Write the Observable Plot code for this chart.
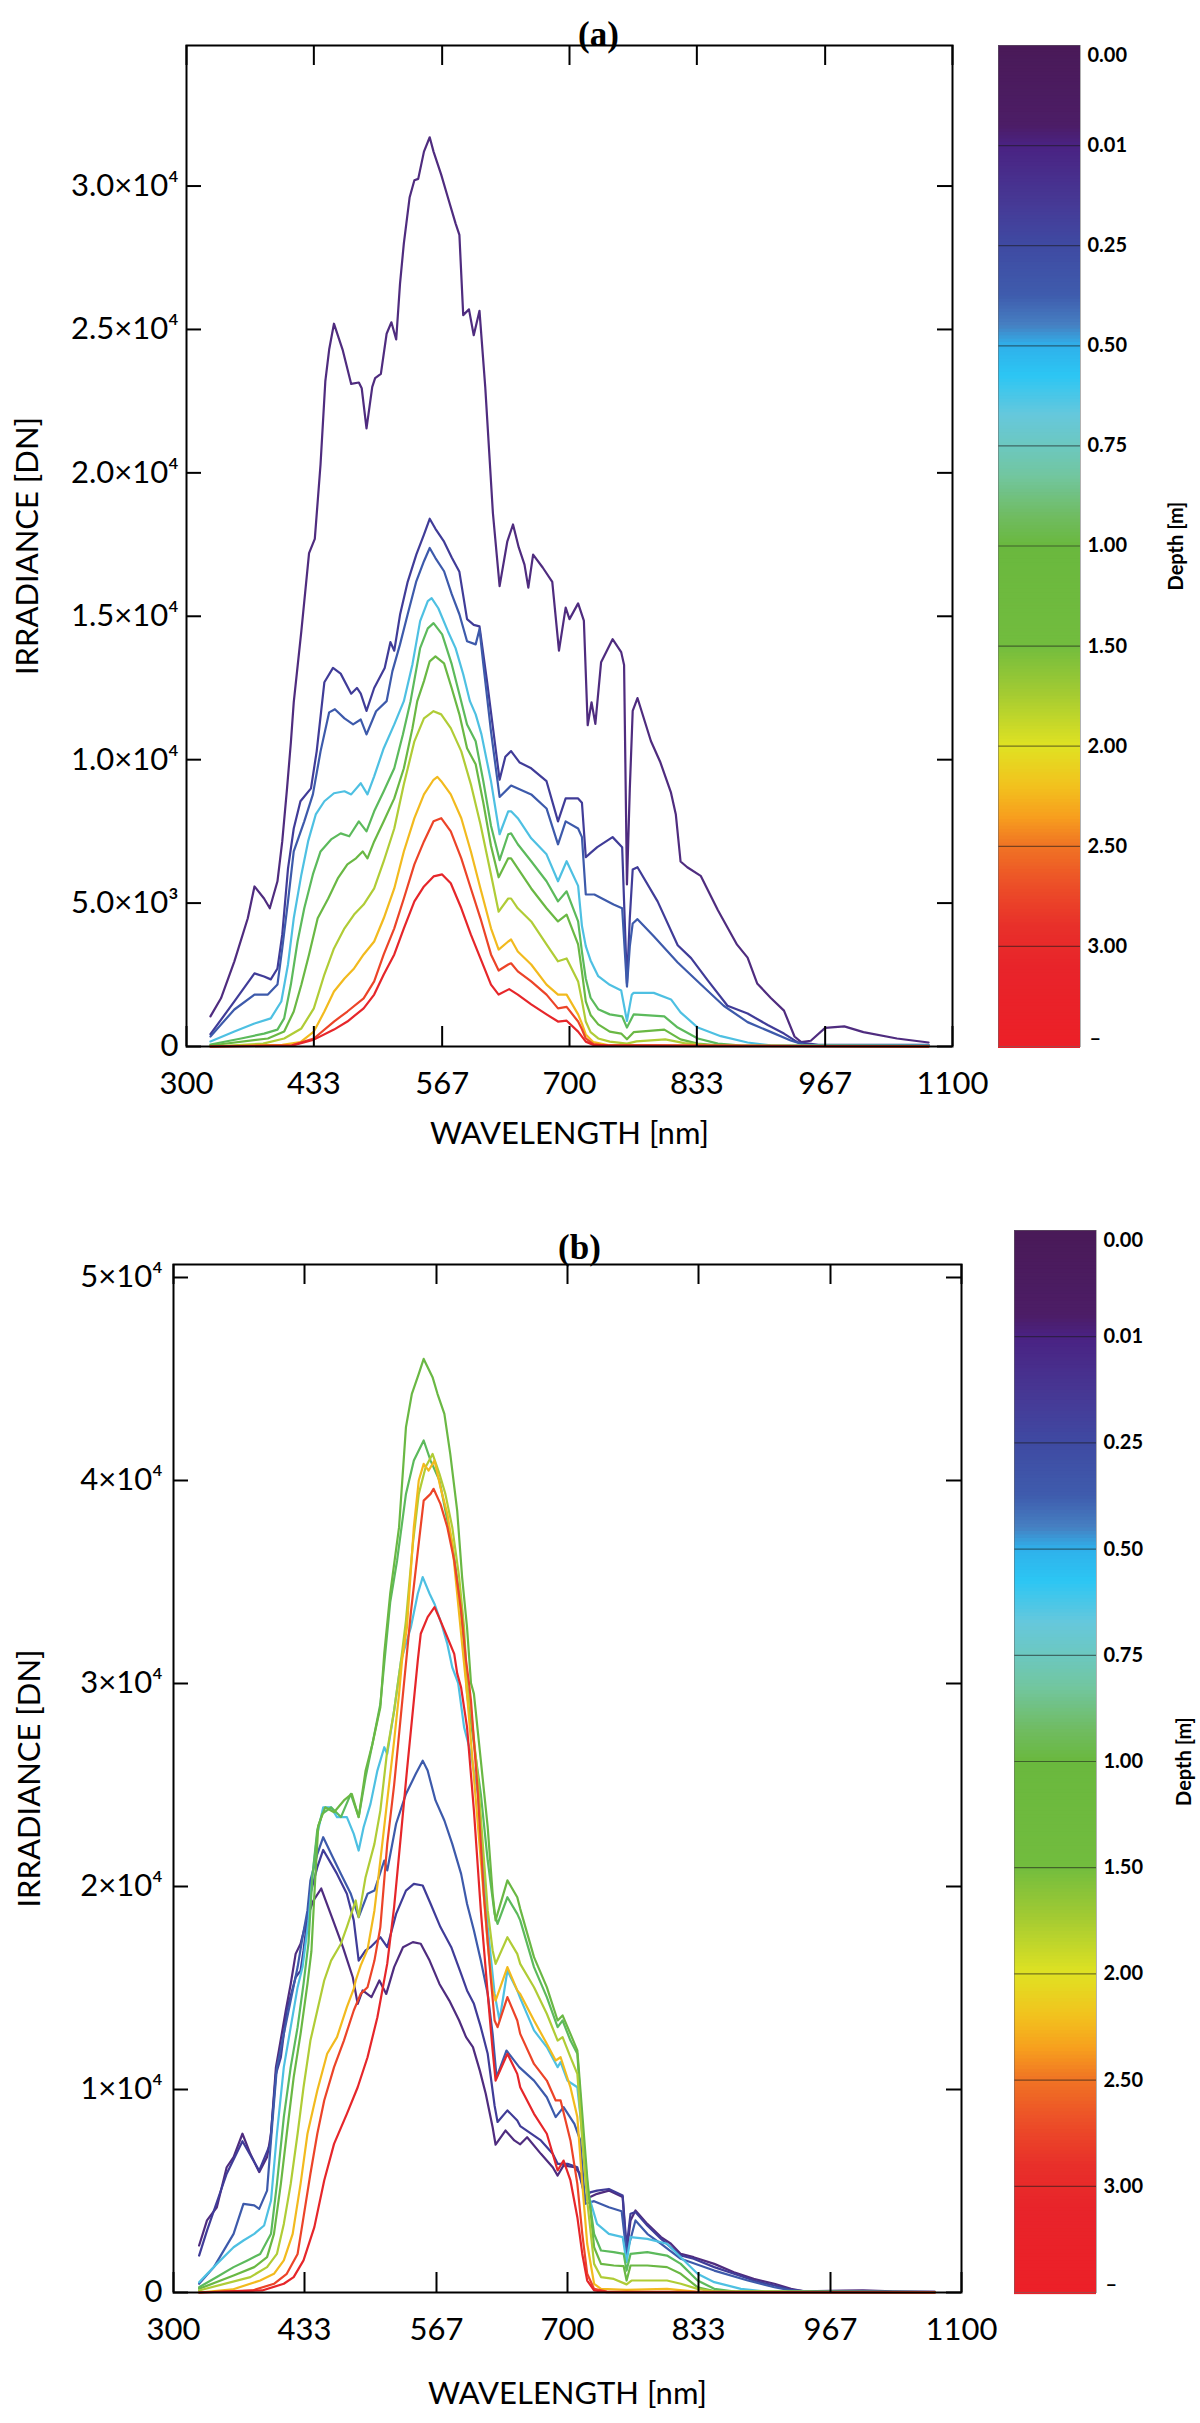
<!DOCTYPE html>
<html>
<head>
<meta charset="utf-8">
<script src="https://cdn.jsdelivr.net/npm/d3@7"></script>
<script src="https://cdn.jsdelivr.net/npm/@observablehq/plot@0.6"></script>
<style>
  html, body { margin: 0; padding: 0; background: #fff; }
  #page { position: relative; width: 1200px; height: 2423px; background: #fff; overflow: hidden; }
  #page svg { position: absolute; overflow: visible; }
</style>
</head>
<body>
<div id="page"></div>
<script>
// ---------------- DATA ----------------
const depthLabels = ["0.00","0.01","0.25","0.50","0.75","1.00","1.50","2.00","2.50","3.00"];
const colorbarLabels = ["0.00","0.01","0.25","0.50","0.75","1.00","1.50","2.00","2.50","3.00","–"];
const xTicks = [300, 433, 567, 700, 833, 967, 1100];
const xTickLabels = ["300","433","567","700","833","967","1100"];
const yTicksA = [0, 5000, 10000, 15000, 20000, 25000, 30000];
const yTickLabelsA = ["0","5.0×10³","1.0×10⁴","1.5×10⁴","2.0×10⁴","2.5×10⁴","3.0×10⁴"];
const yTicksB = [0, 10000, 20000, 30000, 40000, 50000];
const yTickLabelsB = ["0","1×10⁴","2×10⁴","3×10⁴","4×10⁴","5×10⁴"];

// Panel (a): [wavelength nm, irradiance DN]
const a000 = [[325,1050],[336,1680],[350,2970],[364,4470],[371,5580],[381,5160],[387,4820],[395,5760],[400,7150],[405,9000],[409,10600],[412,12000],[420,14500],[428,17200],[434,17700],[440,20300],[445,23200],[449,24300],[454,25200],[459,24700],[463,24300],[472,23100],[480,23150],[483,22950],[488,21550],[494,23000],[497,23300],[503,23450],[509,24850],[514,25250],[519,24650],[523,26600],[527,28000],[533,29600],[538,30200],[542,30250],[548,31200],[554,31700],[558,31200],[562,30800],[566,30400],[573,29600],[581,28700],[585,28300],[589,25500],[595,25700],[600,24800],[606,25650],[612,23000],[620,18600],[627,16050],[635,17600],[641,18200],[647,17400],[653,16800],[657,16000],[662,17150],[672,16700],[682,16200],[689,13800],[696,15300],[700,14900],[709,15450],[715,14850],[719,11200],[723,12000],[727,11250],[733,13400],[745,14200],[754,13750],[757,13300],[760,5650],[763,9000],[766,11700],[771,12150],[785,10650],[795,9900],[806,8850],[811,8100],[816,6450],[823,6250],[837,5950],[855,4750],[875,3550],[886,3100],[896,2200],[910,1700],[924,1250],[935,350],[942,150],[952,200],[967,650],[987,700],[1007,500],[1042,280],[1075,140]];
const a001 = [[325,430],[350,1570],[371,2550],[381,2440],[388,2340],[395,2720],[400,3900],[406,6200],[412,7600],[419,8550],[430,9000],[436,10300],[444,12700],[453,13200],[461,13000],[472,12300],[478,12500],[482,12300],[488,11700],[496,12500],[507,13200],[513,14100],[517,13800],[523,15050],[531,16200],[540,17150],[548,17850],[554,18400],[560,18050],[569,17600],[577,17050],[585,16550],[593,14900],[600,14700],[606,14650],[614,12700],[622,10600],[627,9300],[633,10100],[639,10300],[648,9900],[660,9700],[676,9250],[688,7850],[696,8650],[709,8650],[713,8500],[717,6600],[722,6750],[729,6950],[745,7300],[755,6950],[760,2200],[763,4500],[766,6170],[771,6250],[792,5060],[813,3530],[827,3080],[844,2320],[865,1420],[886,1150],[907,750],[924,450],[938,150],[960,60],[1075,60]];
const a025 = [[325,350],[350,1290],[371,1810],[385,1810],[395,2160],[400,3420],[406,5060],[412,6800],[423,7850],[432,8790],[440,10290],[449,11650],[455,11760],[465,11440],[474,11230],[482,11400],[488,10880],[498,11690],[509,12040],[515,13080],[523,14020],[531,15070],[540,16220],[548,16920],[554,17380],[560,17030],[569,16570],[577,15770],[585,15070],[593,14130],[602,14020],[606,14550],[610,13330],[618,10990],[627,8700],[639,9100],[660,8790],[676,8300],[688,7050],[696,7850],[709,7600],[713,7300],[717,5300],[726,5300],[734,5160],[746,4950],[755,4820],[760,2090],[763,3500],[766,4290],[771,4440],[788,3840],[813,2930],[837,2170],[861,1420],[886,850],[910,510],[931,210],[945,60],[1075,40]];
const a050 = [[325,175],[350,520],[371,800],[388,980],[399,1570],[406,2860],[412,4470],[420,6000],[427,7150],[435,8090],[444,8550],[454,8830],[465,8900],[472,8790],[482,9180],[489,8790],[496,9420],[506,10400],[517,11230],[527,12040],[536,13330],[544,14830],[552,15530],[556,15630],[563,15280],[573,14480],[581,13890],[589,12980],[596,12040],[602,11580],[608,10890],[618,9250],[627,7400],[636,8200],[639,8200],[646,7960],[660,7260],[676,6700],[688,5760],[697,6460],[709,5600],[713,4200],[717,3500],[722,3000],[730,2450],[742,2150],[754,1950],[760,890],[765,1800],[767,1870],[788,1870],[806,1640],[816,1190],[834,660],[858,360],[886,140],[910,40],[1075,30]];
const a075 = [[325,70],[357,280],[381,450],[395,590],[402,980],[409,2160],[416,3660],[423,4820],[432,6000],[440,6800],[451,7220],[461,7430],[470,7330],[480,7850],[488,7500],[496,8200],[506,8900],[517,9700],[526,10880],[534,12040],[544,13890],[552,14580],[558,14760],[567,14370],[577,13330],[585,12280],[593,11230],[602,10640],[610,9250],[618,7700],[627,6500],[636,7400],[639,7430],[646,7050],[660,6460],[676,5760],[688,5060],[697,5410],[709,4360],[713,3300],[717,2370],[722,1700],[730,1300],[742,1120],[755,1050],[760,660],[767,1120],[799,1050],[813,660],[834,280],[855,100],[880,30],[1075,20]];
const a100 = [[325,35],[385,280],[402,520],[412,1220],[420,2160],[428,3210],[437,4470],[448,5160],[458,5860],[468,6350],[477,6560],[484,6800],[489,6560],[496,7150],[506,7850],[517,8650],[527,9700],[536,11100],[541,12040],[548,12740],[554,13430],[560,13600],[569,13360],[577,12490],[585,11580],[593,10400],[602,9840],[610,8500],[618,7000],[626,5900],[636,6560],[639,6560],[646,6210],[660,5510],[676,4820],[688,4360],[697,4600],[709,3560],[713,2600],[717,1570],[722,1100],[730,770],[742,520],[754,450],[760,250],[767,500],[799,590],[816,250],[834,100],[860,20],[1075,10]];
const a150 = [[325,0],[380,100],[402,280],[420,630],[433,1330],[444,2510],[454,3420],[465,4120],[475,4600],[485,4950],[496,5510],[506,6460],[517,7600],[527,9140],[538,10640],[548,11440],[558,11690],[566,11580],[576,11100],[587,10290],[597,9140],[607,7750],[618,6000],[626,4700],[636,5160],[639,5160],[646,4820],[660,4360],[676,3560],[688,2970],[697,3070],[709,2270],[713,1600],[717,870],[722,500],[730,280],[742,170],[760,100],[770,180],[800,250],[820,120],[850,30],[1075,10]];
const a200 = [[325,0],[400,60],[419,150],[433,520],[444,1220],[454,1920],[465,2370],[475,2720],[485,3210],[496,3660],[506,4470],[517,5510],[527,6800],[538,7960],[548,8790],[558,9300],[562,9400],[566,9250],[576,8790],[587,7960],[597,6800],[607,5510],[618,4120],[626,3380],[636,3660],[639,3730],[646,3310],[660,2860],[676,2160],[688,1810],[697,1810],[709,1120],[713,800],[717,420],[725,150],[740,50],[1075,0]];
const a250 = [[325,0],[410,40],[433,280],[454,870],[468,1220],[485,1680],[496,2270],[506,3210],[517,4120],[527,5160],[538,6350],[548,7150],[558,7850],[566,7960],[576,7500],[587,6560],[597,5510],[607,4470],[618,3210],[626,2650],[636,2860],[639,2900],[646,2620],[660,2270],[676,1810],[688,1330],[697,1380],[709,870],[713,600],[717,280],[725,80],[740,20],[1075,0]];
const a300 = [[325,0],[410,30],[433,240],[454,590],[468,870],[485,1330],[496,1810],[506,2510],[517,3210],[527,4120],[538,5060],[548,5580],[558,5930],[567,6000],[576,5690],[587,4820],[597,3900],[607,3070],[618,2160],[626,1810],[637,2000],[646,1810],[660,1470],[676,1120],[688,870],[697,900],[709,520],[717,170],[725,50],[1075,0]];

// Panel (b): [wavelength nm, irradiance DN]
const b000 = [[326,2315],[334,3550],[344,4200],[354,6170],[361,6670],[370,7820],[378,6830],[387,5930],[395,6670],[399,7820],[404,11100],[407,11920],[414,13890],[419,15200],[424,16680],[429,17180],[436,18500],[442,19300],[450,19900],[462,18330],[472,17010],[482,15530],[487,14220],[492,14880],[501,14550],[509,15370],[516,14710],[524,16030],[533,17010],[543,17260],[551,17180],[560,16350],[570,15200],[580,14380],[590,13400],[597,12580],[604,12090],[611,10930],[617,9790],[624,8140],[627,7280],[637,7980],[646,7490],[652,7300],[659,7650],[673,6830],[685,6170],[690,5760],[696,6260],[707,6170],[713,5850],[718,4530],[723,4700],[730,4860],[742,5020],[756,4700],[760,1900],[764,3550],[769,4040],[781,3380],[795,2730],[805,2400],[815,1900],[828,1740],[849,1410],[869,1000],[889,670],[910,430],[927,180],[940,60],[980,90],[1000,100],[1030,60],[1073,30]];
const b001 = [[326,1820],[334,3050],[354,5850],[370,7450],[387,6000],[398,7300],[404,10760],[409,11590],[415,13890],[424,15530],[429,15860],[432,16850],[439,19640],[446,20950],[452,21800],[458,21300],[466,20620],[476,19640],[483,18330],[488,16350],[495,16850],[500,17010],[510,17500],[517,17010],[526,18650],[536,19800],[544,20130],[553,20050],[561,19150],[571,18000],[582,17010],[592,15700],[598,14880],[605,14220],[612,13070],[619,11760],[626,9200],[629,8400],[639,8970],[649,8470],[652,8200],[673,7490],[685,6830],[690,6340],[700,6340],[710,6170],[718,4700],[723,4930],[730,5020],[742,5100],[756,4780],[760,2230],[764,3880],[769,3960],[781,3300],[795,2640],[815,1820],[828,1660],[849,1250],[869,920],[889,590],[910,345],[927,130],[945,40],[1073,30]];
const b025 = [[326,430],[341,1250],[361,2890],[371,4370],[382,4290],[387,4120],[395,5020],[400,8140],[405,11100],[412,12740],[419,14390],[426,16030],[431,17500],[436,18820],[439,20300],[446,21600],[452,22430],[460,21610],[470,20620],[480,19640],[488,18490],[497,19640],[504,19800],[514,21280],[517,20790],[526,23090],[536,24560],[546,25550],[553,26200],[558,25710],[566,24240],[575,23250],[583,22100],[592,20620],[598,19150],[605,17830],[612,16350],[619,14710],[624,12740],[628,10600],[638,11920],[651,11100],[666,10440],[679,9620],[688,8640],[696,9130],[707,8310],[713,7490],[718,4370],[727,4500],[742,4200],[755,4000],[760,1900],[769,3550],[781,2890],[795,2400],[815,1660],[849,1080],[883,590],[910,260],[927,100],[945,30],[1073,20]];
const b050 = [[326,510],[344,1410],[361,2230],[371,2560],[382,2890],[392,3300],[399,4530],[405,7820],[412,11100],[419,13070],[426,15040],[431,16030],[437,18300],[441,20500],[446,22590],[452,23900],[460,23900],[466,23420],[476,23420],[483,22590],[488,21770],[493,22920],[500,24070],[507,25710],[514,26860],[517,26530],[524,28670],[531,31130],[541,32770],[548,34420],[553,35240],[560,34420],[565,33920],[572,32940],[578,31950],[583,30800],[589,30020],[595,27850],[602,26530],[609,24560],[614,21280],[619,18000],[626,14710],[631,13400],[639,15860],[649,14880],[652,14500],[666,12910],[679,12090],[690,11100],[693,11350],[700,10440],[710,10110],[715,7820],[720,5020],[723,4530],[730,3380],[742,2890],[756,2730],[760,1490],[764,2730],[781,2640],[801,2400],[815,1740],[832,920],[849,510],[876,180],[900,50],[1073,20]];
const b075 = [[326,260],[344,760],[361,1250],[375,1580],[388,1900],[399,2890],[405,5350],[412,8640],[419,11100],[426,13070],[432,15200],[437,17200],[441,20500],[446,22800],[451,23580],[460,23900],[470,23420],[480,24560],[488,23420],[495,25380],[502,27030],[510,28990],[514,31000],[520,34000],[527,36060],[536,39340],[544,40980],[554,41970],[561,40980],[570,40000],[576,38520],[583,36880],[590,34420],[595,31950],[598,29490],[605,27030],[612,24560],[619,21280],[626,18650],[629,18160],[639,19470],[649,18650],[652,18330],[666,16030],[679,14550],[690,13070],[695,13400],[703,12410],[710,11760],[715,8150],[720,5350],[727,2890],[734,2070],[747,1990],[757,1900],[760,1080],[764,1900],[781,1990],[801,1820],[815,1410],[832,590],[849,180],[870,40],[1073,20]];
const b100 = [[326,180],[361,840],[382,1250],[395,1740],[402,2890],[409,5350],[415,7820],[422,10600],[429,12740],[436,15200],[440,16800],[444,20500],[447,23000],[454,23900],[463,23660],[473,24240],[481,24560],[488,23420],[495,25700],[502,27030],[510,28830],[514,31500],[520,34420],[529,37700],[536,42630],[542,44270],[549,45250],[554,45990],[563,45090],[568,44270],[575,43280],[581,41300],[588,38520],[593,35240],[598,32770],[602,30020],[605,29490],[612,26210],[619,22920],[624,19640],[627,18330],[639,20300],[649,19470],[652,18900],[666,16520],[679,15040],[690,13400],[695,13650],[703,12740],[710,11920],[715,8800],[720,5680],[727,2230],[734,1410],[747,1330],[757,1300],[760,590],[764,1330],[781,1330],[801,1250],[815,920],[832,260],[850,60],[1073,20]];
const b150 = [[326,100],[378,760],[395,1250],[405,1900],[412,3380],[419,5350],[426,7820],[432,10110],[439,12410],[446,13890],[453,15370],[460,16350],[470,17180],[476,18000],[485,19310],[488,18490],[495,20460],[504,22100],[510,23740],[517,26700],[524,28670],[531,31130],[536,33100],[543,36880],[549,39340],[556,40660],[563,41310],[570,40330],[576,39340],[583,37700],[590,35240],[595,32770],[598,30020],[602,28670],[609,25380],[614,22100],[619,18820],[624,16850],[627,16190],[639,17500],[649,16680],[652,16190],[666,15040],[679,13730],[690,12410],[695,12580],[703,11590],[710,10770],[715,7490],[720,4530],[727,1410],[734,760],[747,670],[760,400],[765,590],[801,590],[815,430],[832,180],[850,40],[1073,10]];
const b200 = [[326,0],[360,150],[388,590],[402,920],[412,1580],[421,2890],[429,5350],[436,7820],[446,9950],[456,11760],[466,12580],[476,14060],[483,14960],[485,15370],[490,16100],[497,16900],[504,18820],[510,21280],[517,24240],[524,27190],[529,29490],[532,31130],[537,32770],[544,37700],[549,40000],[554,40820],[559,40490],[565,40980],[571,39670],[578,38360],[583,36880],[588,34420],[593,31950],[597,30020],[598,29490],[605,25380],[612,21280],[619,17170],[624,14880],[627,14380],[639,16030],[649,14880],[652,14710],[666,13400],[679,12250],[688,11430],[693,11590],[703,10110],[710,8640],[715,5350],[720,2400],[727,430],[734,180],[760,130],[801,180],[830,40],[1073,0]];
const b250 = [[326,0],[380,100],[402,430],[415,920],[426,1900],[432,3710],[439,5850],[446,7820],[453,9460],[463,11100],[473,12410],[483,13890],[490,14710],[497,15040],[504,16350],[510,18000],[517,22100],[524,25000],[531,28500],[537,31500],[541,33500],[548,36500],[554,39010],[561,39340],[564,39590],[571,38850],[578,37700],[585,36060],[592,33600],[597,31130],[600,30020],[602,29160],[609,24560],[615,19640],[622,15530],[626,13400],[629,13070],[639,14550],[649,13400],[652,12740],[666,11260],[679,10440],[688,9460],[693,9460],[703,7490],[710,5350],[715,2890],[720,920],[727,180],[740,40],[1073,0]];
const b300 = [[326,0],[390,100],[412,430],[422,760],[432,1580],[443,3220],[453,5520],[463,7320],[476,8800],[487,10110],[497,11590],[507,13560],[517,16200],[524,19000],[531,22590],[537,25710],[544,29160],[548,31130],[551,32450],[558,33270],[565,33760],[571,33100],[578,32280],[585,31460],[588,30500],[592,29800],[598,27850],[605,23740],[612,18820],[619,14710],[624,11920],[627,10440],[639,11760],[649,10770],[652,10110],[666,8800],[679,7820],[690,6010],[696,6500],[703,5520],[710,3710],[715,1900],[720,590],[727,100],[740,20],[1073,0]];

const seriesA = [a000, a001, a025, a050, a075, a100, a150, a200, a250, a300];
const seriesB = [b000, b001, b025, b050, b075, b100, b150, b200, b250, b300];

// ---------------- STYLE ----------------
const lineColors = ["#4f2c7f","#403c98","#3d5aab","#4ec0e2","#5cba5c","#6ab844","#b0cc36","#f2ba1e","#ec4428","#e6262a"];
const cbStops = [
  [0.00,"#4a1a58"],[0.08,"#4c1d66"],[0.10,"#4a2282"],[0.16,"#463a96"],[0.20,"#3f4aa2"],[0.25,"#3f5cad"],
  [0.28,"#4680c2"],[0.30,"#2fb0ea"],[0.33,"#2cc6f4"],[0.37,"#66c8dc"],[0.40,"#6cc8c0"],[0.43,"#72c6a0"],
  [0.47,"#70bc62"],[0.50,"#6ab83e"],[0.60,"#72bc3e"],[0.65,"#a6cc32"],[0.70,"#e0e222"],[0.74,"#f2c21e"],
  [0.77,"#f7a01e"],[0.80,"#f07424"],[0.84,"#ec4e28"],[0.88,"#e8302a"],[0.92,"#e8242a"],[1.00,"#ec2028"]
];
const FONT = "Lato, 'DejaVu Sans', sans-serif";
const page = document.getElementById("page");

function toRows(series) {
  return series.flatMap((s, i) => s.map(([wl, irr]) => ({wl, irr, depth: depthLabels[i]})));
}

function panel({series, yDomain, yTicks, yLabels, top, height, mt, mb, ml, mr, yPad, irrDx, wlDy, title, titleDx, titleDy}) {
  const innerW = 1200 - ml - mr;
  const innerH = height - mt - mb;
  const xMap = new Map(xTicks.map((t, i) => [t, xTickLabels[i]]));
  const yMap = new Map(yTicks.map((t, i) => [t, yLabels[i]]));
  const svg = Plot.plot({
    width: 1200, height,
    marginTop: mt, marginBottom: mb, marginLeft: ml, marginRight: mr,
    x: {domain: [300, 1100]},
    y: {domain: yDomain},
    color: {type: "ordinal", domain: depthLabels, range: lineColors},
    style: {fontFamily: FONT, background: "transparent", color: "black"},
    marks: [
      Plot.line(toRows(series), {x: "wl", y: "irr", z: "depth", stroke: "depth", strokeWidth: 2.2, strokeLinejoin: "round"}),
      Plot.frame({stroke: "black", strokeWidth: 2}),
      Plot.tickX(xTicks, {x: d => d, insetTop: innerH - 20, stroke: "black", strokeWidth: 2}),
      Plot.tickX(xTicks, {x: d => d, insetBottom: innerH - 20, stroke: "black", strokeWidth: 2}),
      Plot.tickY(yTicks, {y: d => d, insetRight: innerW - 15, stroke: "black", strokeWidth: 2}),
      Plot.tickY(yTicks, {y: d => d, insetLeft: innerW - 15, stroke: "black", strokeWidth: 2}),
      Plot.axisX(xTicks, {tickSize: 0, tickPadding: 25, tickFormat: d => xMap.get(d), fontSize: 31, label: null}),
      Plot.axisY(yTicks, {tickSize: 0, tickPadding: yPad, tickFormat: d => yMap.get(d), fontSize: 31, label: null}),
      Plot.text(["IRRADIANCE [DN]"], {text: d => d, frameAnchor: "left", dx: irrDx, rotate: -90, fontSize: 31, textAnchor: "middle"}),
      Plot.text(["WAVELENGTH [nm]"], {text: d => d, frameAnchor: "bottom", dy: wlDy, fontSize: 31, textAnchor: "middle"}),
      Plot.text([title], {text: d => d, frameAnchor: "top", dx: titleDx, dy: titleDy, fontSize: 35, fontWeight: "bold", fontFamily: "'Liberation Serif', 'DejaVu Serif', serif"})
    ]
  });
  svg.style.left = "0px";
  svg.style.top = top + "px";
  page.appendChild(svg);
}

function colorbar({left, top, barH, depthDx}) {
  const pad = 12;
  const barW = 82;
  const width = 1200 - left;
  const interp = d3.scaleLinear().domain(cbStops.map(s => s[0])).range(cbStops.map(s => s[1])).interpolate(d3.interpolateRgb);
  const N = 300;
  const slices = d3.range(N).map(i => ({t0: (i / N) * 10, t1: ((i + 1) / N) * 10 + 0.02, c: interp((i + 0.5) / N)}));
  const idx = colorbarLabels.map((l, i) => ({l, i}));
  const svg = Plot.plot({
    width, height: barH + 2 * pad,
    marginTop: pad, marginBottom: pad, marginLeft: 0, marginRight: width - barW,
    x: {domain: [0, 1], axis: null},
    y: {domain: [0, 10], reverse: true, axis: null},
    style: {fontFamily: FONT, background: "transparent", color: "black"},
    marks: [
      Plot.rect(slices, {x1: 0, x2: 1, y1: "t0", y2: "t1", fill: "c"}),
      Plot.ruleY(d3.range(1, 10), {stroke: "#1a1a1a", strokeOpacity: 0.55, strokeWidth: 1.2}),
      Plot.frame({stroke: "#666", strokeOpacity: 0.5, strokeWidth: 1}),
      Plot.text(idx.filter(d => d.i === 0), {x: 1, y: "i", text: "l", dx: 7, textAnchor: "start", lineAnchor: "top", dy: 2, fontSize: 20, fontWeight: "bold"}),
      Plot.text(idx.filter(d => d.i > 0 && d.i < 10), {x: 1, y: "i", text: "l", dx: 7, textAnchor: "start", fontSize: 20, fontWeight: "bold"}),
      Plot.text(idx.filter(d => d.i === 10), {x: 1, y: "i", text: "l", dx: 9, textAnchor: "start", lineAnchor: "bottom", dy: -2, fontSize: 20, fontWeight: "bold"}),
      Plot.text(["Depth [m]"], {text: d => d, frameAnchor: "right", dx: depthDx, rotate: -90, fontSize: 20, fontWeight: "bold", textAnchor: "middle"})
    ]
  });
  svg.style.left = left + "px";
  svg.style.top = (top - pad) + "px";
  page.appendChild(svg);
}

// Panel (a)
panel({series: seriesA, yDomain: [0, 34900], yTicks: yTicksA, yLabels: yTickLabelsA,
  top: 0, height: 1170, mt: 45, mb: 124, ml: 186, mr: 248, yPad: 8, irrDx: -158, wlDy: 97,
  title: "(a)", titleDx: 29, titleDy: -24});
colorbar({left: 998, top: 45, barH: 1001, depthDx: 96});

// Panel (b)
panel({series: seriesB, yDomain: [0, 50640], yTicks: yTicksB, yLabels: yTickLabelsB,
  top: 1170, height: 1253, mt: 94, mb: 131, ml: 173, mr: 239, yPad: 11, irrDx: -143, wlDy: 111,
  title: "(b)", titleDx: 12, titleDy: -30});
colorbar({left: 1014, top: 1230, barH: 1062, depthDx: 88});
</script>
</body>
</html>
